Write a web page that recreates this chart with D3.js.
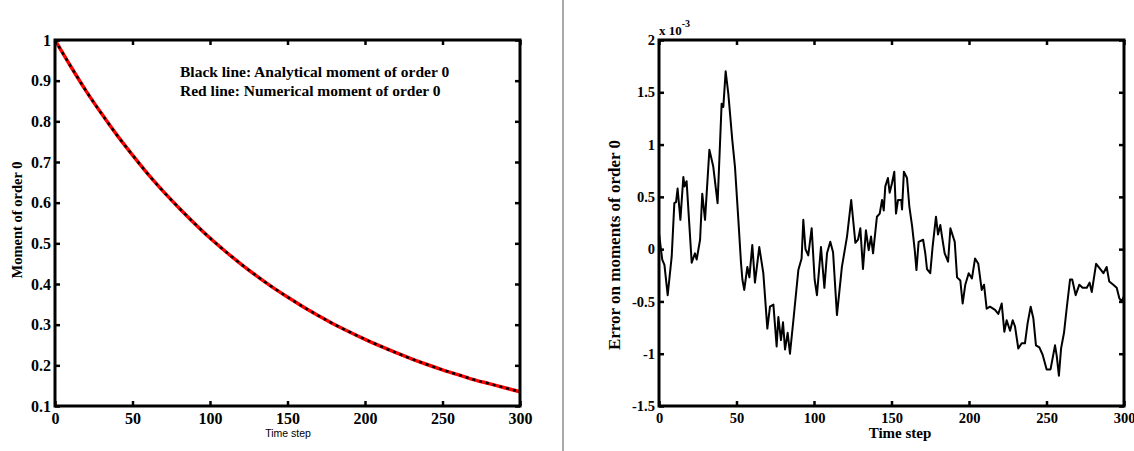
<!DOCTYPE html>
<html>
<head>
<meta charset="utf-8">
<script src="https://cdn.jsdelivr.net/npm/d3@7/dist/d3.min.js"></script>
<style>
  html, body { margin: 0; padding: 0; background: #fff; }
  svg { display: block; }
  .serif { font-family: "Liberation Serif", "Times New Roman", serif; font-weight: bold; }
</style>
</head>
<body>
<svg id="chart" width="1134" height="451"></svg>
<script>
// ---------- data ----------
const timeSteps = [0,10,20,30,40,50,60,70,80,90,100,110,120,130,140,150,160,170,180,190,200,210,220,230,240,250,260,270,280,290,300];
const analyticalMoment = [1.000,0.936,0.875,0.819,0.766,0.717,0.670,0.627,0.587,0.549,0.513,0.480,0.449,0.420,0.393,0.368,0.344,0.322,0.301,0.282,0.264,0.247,0.231,0.216,0.202,0.189,0.177,0.165,0.155,0.145,0.135];
const numericalMoment  = [1.000,0.936,0.875,0.819,0.766,0.717,0.670,0.627,0.587,0.549,0.513,0.480,0.449,0.420,0.393,0.368,0.344,0.322,0.301,0.282,0.264,0.247,0.231,0.216,0.202,0.189,0.177,0.165,0.155,0.145,0.135];

// error (units of 1e-3)
const errorSteps = [0,2.1,3.5,5.6,8.2,9.9,11,12,13.8,15.7,16.5,17.8,21.1,23.2,24.3,26.5,27.9,29.7,32.5,35,37.8,40.4,41.5,43,44.7,45.8,47.3,49,51.2,52.9,53.8,55,57,58.3,60.2,61.9,64.7,67.3,69.9,71.6,73.8,75.9,77,78.7,80,81.3,83,84.5,86.7,89.9,92,93.1,94.5,96.3,98.5,100.4,101.9,104.5,106.7,108.4,110.5,112.3,114.8,118,121.3,124,126.7,128.4,129.9,131.6,133.5,135.3,136.8,138.1,140.6,142.4,143.9,145,146,147.7,148.8,150.3,151.8,152.9,154.2,156.3,156.8,158,160,161.5,163.3,165,166.1,167.5,170.4,171.8,172.9,175,176.5,178.7,180,181.5,182.6,184.3,186.5,188,190.8,192.3,194.4,195.9,197.6,199.8,201.9,203.9,206,208.2,209.7,211.4,213.5,216.8,218.9,221.1,222.8,224.3,226.5,228.2,229.7,231.8,234,236.1,237.8,239.8,241.5,243.2,245.4,247.5,250.1,252.6,255.5,256.6,258,259.4,261.3,263,265.2,266.6,268.8,271.2,273.3,276,277.8,279.2,282,284.1,286.7,288.8,290.5,293.1,295.3,297,298.5,300];
const errorValues = [0.15,-0.10,-0.15,-0.44,-0.07,0.44,0.45,0.58,0.28,0.69,0.60,0.65,-0.13,-0.04,-0.10,0.09,0.53,0.28,0.95,0.79,0.44,1.39,1.36,1.70,1.49,1.30,1.04,0.79,0.28,-0.13,-0.29,-0.39,-0.17,-0.27,0.04,-0.32,0.02,-0.23,-0.76,-0.55,-0.53,-0.93,-0.65,-0.87,-0.70,-0.96,-0.80,-1.00,-0.68,-0.20,-0.09,0.28,0.00,-0.06,0.20,-0.29,-0.44,0.02,-0.37,-0.04,0.07,-0.03,-0.63,-0.17,0.12,0.47,0.06,0.09,0.20,-0.19,0.18,-0.01,0.12,-0.04,0.31,0.34,0.47,0.37,0.60,0.68,0.54,0.63,0.74,0.34,0.47,0.47,0.38,0.74,0.68,0.41,0.22,-0.01,-0.20,0.07,0.09,-0.04,-0.19,-0.23,0.02,0.31,0.14,0.23,0.12,-0.04,-0.12,0.20,0.07,-0.27,-0.30,-0.52,-0.34,-0.23,-0.28,-0.09,-0.14,-0.39,-0.34,-0.57,-0.55,-0.58,-0.62,-0.52,-0.79,-0.68,-0.78,-0.68,-0.74,-0.95,-0.90,-0.90,-0.71,-0.55,-0.66,-0.92,-0.94,-1.01,-1.15,-1.15,-0.92,-1.02,-1.21,-0.95,-0.80,-0.57,-0.29,-0.29,-0.44,-0.34,-0.37,-0.37,-0.32,-0.41,-0.14,-0.18,-0.23,-0.17,-0.31,-0.34,-0.37,-0.47,-0.50,-0.45];

const xTicks = [0,50,100,150,200,250,300];
const leftYTicks = [0.1,0.2,0.3,0.4,0.5,0.6,0.7,0.8,0.9,1];
const rightYTicks = [-1.5,-1,-0.5,0,0.5,1,1.5,2];

const legendLines = ["Black line: Analytical moment of order 0", "Red line: Numerical moment of order 0"];

// ---------- drawing ----------
const svg = d3.select("#chart");

function framedAxes(g, x, y, yTicks, fontSize, pad) {
  const [x0, x1] = x.range();
  const [y0, y1] = y.range(); // y0 bottom, y1 top
  const fmt = d => String(d);
  const bottom = g.append("g").attr("transform", `translate(0,${y0})`)
    .call(d3.axisBottom(x).tickValues(xTicks).tickSize(-5).tickPadding(pad).tickFormat(fmt));
  const top = g.append("g").attr("transform", `translate(0,${y1})`)
    .call(d3.axisTop(x).tickValues(xTicks).tickSize(-5).tickFormat(""));
  const left = g.append("g").attr("transform", `translate(${x0},0)`)
    .call(d3.axisLeft(y).tickValues(yTicks).tickSize(-5).tickPadding(4).tickFormat(fmt));
  const right = g.append("g").attr("transform", `translate(${x1},0)`)
    .call(d3.axisRight(y).tickValues(yTicks).tickSize(-5).tickFormat(""));
  [bottom, top, left, right].forEach(a => {
    a.select(".domain").remove();
    a.selectAll(".tick line").attr("stroke", "#000").attr("stroke-width", 2.5);
    a.selectAll(".tick text").attr("class", "serif").attr("font-size", fontSize).attr("fill", "#000");
  });
  g.append("rect").attr("x", x0).attr("y", y1).attr("width", x1 - x0).attr("height", y0 - y1)
    .attr("fill", "none").attr("stroke", "#000").attr("stroke-width", 3);
}

// Left chart
const xL = d3.scaleLinear().domain([0, 300]).range([55, 520]);
const yL = d3.scaleLinear().domain([0.1, 1]).range([406, 40]);
const gL = svg.append("g");

const lineL = (arr) => d3.line().x((d, i) => xL(timeSteps[i])).y(d => yL(d)).curve(d3.curveMonotoneX)(arr);
gL.append("path").attr("d", lineL(numericalMoment)).attr("fill", "none").attr("stroke", "#ff0000").attr("stroke-width", 3.5);
gL.append("path").attr("d", lineL(analyticalMoment)).attr("fill", "none").attr("stroke", "#000").attr("stroke-width", 2.5).attr("stroke-dasharray", "3,4");

framedAxes(gL, xL, yL, leftYTicks, 16, 7);

gL.selectAll("text.legend").data(legendLines).enter().append("text")
  .attr("class", "serif").attr("font-size", 15.5)
  .attr("x", 180).attr("y", (d, i) => 77 + i * 19).text(d => d);

gL.append("text").attr("x", 288).attr("y", 437).attr("text-anchor", "middle")
  .attr("font-family", "Liberation Sans, Arial, sans-serif").attr("font-size", 10.5).text("Time step");

gL.append("text").attr("class", "serif").attr("font-size", 14.5)
  .attr("transform", "translate(22,220) rotate(-90)").attr("text-anchor", "middle").text("Moment of order 0");

// divider
svg.append("line").attr("x1", 563).attr("x2", 563).attr("y1", 0).attr("y2", 451)
  .attr("stroke", "#555").attr("stroke-width", 1);

// Right chart
const xR = d3.scaleLinear().domain([0, 300]).range([659, 1124]);
const yR = d3.scaleLinear().domain([-1.5, 2]).range([406, 40]);
const gR = svg.append("g");

gR.append("path")
  .attr("d", d3.line().x((d, i) => xR(errorSteps[i])).y(d => yR(d))(errorValues))
  .attr("fill", "none").attr("stroke", "#000").attr("stroke-width", 2).attr("stroke-linejoin", "round");

framedAxes(gR, xR, yR, rightYTicks, 14.5, 7);

const exp = gR.append("text").attr("class", "serif").attr("font-size", 13).attr("x", 659).attr("y", 35);
exp.append("tspan").text("x 10");
exp.append("tspan").attr("font-size", 10).attr("dy", -8).text("-3");

gR.append("text").attr("class", "serif").attr("font-size", 15).attr("x", 900).attr("y", 438)
  .attr("text-anchor", "middle").text("Time step");

gR.append("text").attr("class", "serif").attr("font-size", 17)
  .attr("transform", "translate(620,245) rotate(-90)").attr("text-anchor", "middle").text("Error on moments of order 0");
</script>
</body>
</html>
